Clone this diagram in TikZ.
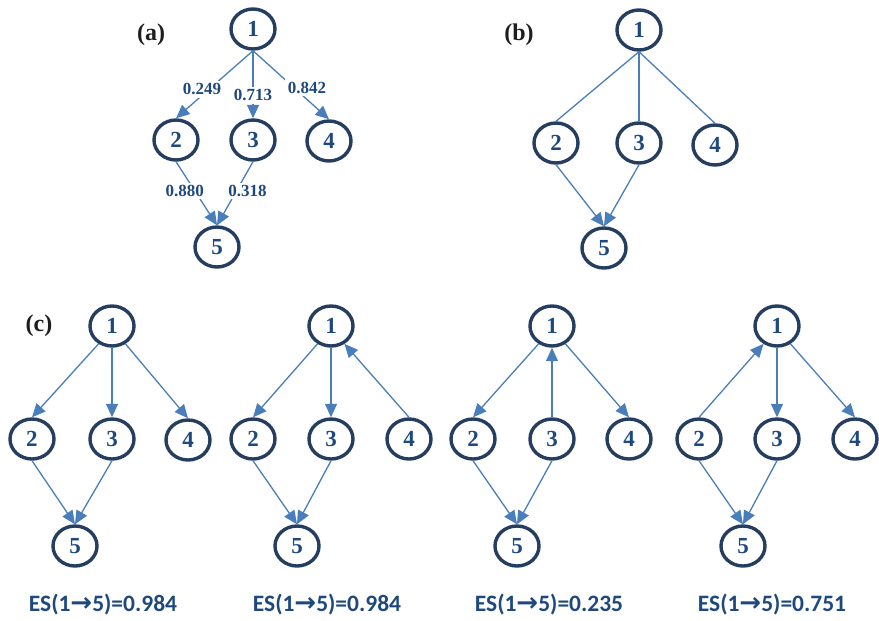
\documentclass[tikz,border=0pt]{standalone}
\usepackage{fontspec}
\setmainfont{Liberation Serif}
\newfontfamily\esfont{Carlito}
\newfontfamily\arrowfont{DejaVu Sans}
\usetikzlibrary{shapes.geometric,arrows.meta}

\definecolor{nodeline}{RGB}{37,62,96}
\definecolor{nodetext}{RGB}{31,73,125}
\definecolor{edgeblue}{RGB}{74,126,187}
\definecolor{labelink}{RGB}{30,30,30}

\tikzset{
  vert/.style={ellipse, draw=nodeline, line width=3.4pt, minimum width=44pt,
    minimum height=40pt, inner sep=0pt, text=nodetext,
    font=\fontsize{23}{23}\selectfont\bfseries},
  link/.style={draw=edgeblue, line width=1.3pt},
  arc/.style={link, -{Triangle[length=13.5pt,width=12pt]}},
  weight/.style={fill=white, inner sep=2.5pt, text=nodetext,
    font=\fontsize{17}{17}\selectfont\bfseries},
  panel/.style={text=labelink, font=\fontsize{24}{24}\selectfont\bfseries},
  score/.style={text=nodetext, font=\esfont\fontsize{23.5}{23.5}\selectfont\bfseries},
}
\newcommand{\esarrow}{{\arrowfont\fontsize{26}{26}\selectfont\bfseries →}}

\begin{document}
\begin{tikzpicture}[x=1pt,y=-1pt]
\useasboundingbox (0,0) rectangle (879,621);

% ---------- (a) weighted graph ----------
\node[panel] (la) at (151,35) {(a)};
\node[vert] (a1) at (253,29) {1};
\node[vert] (a2) at (176,140) {2};
\node[vert] (a3) at (253,140) {3};
\node[vert] (a4) at (329,141) {4};
\node[vert] (a5) at (217,247) {5};
\draw[arc] (a1.south) -- node[weight, pos=0.57, xshift=-7pt] {0.249} (a2.north);
\draw[arc] (a1.south) -- node[weight, pos=0.66] {0.713} (a3.north);
\draw[arc] (a1.south) -- node[weight, pos=0.54, xshift=13pt] {0.842} (a4.north);
\draw[arc] (a2.south) -- node[weight, pos=0.46, xshift=-10pt] {0.880} (a5.north);
\draw[arc] (a3.south) -- node[weight, pos=0.46, xshift=11pt] {0.318} (a5.north);

% ---------- (b) undirected upper part ----------
\node[panel] (lb) at (519,35) {(b)};
\node[vert] (b1) at (639,30) {1};
\node[vert] (b2) at (556,143) {2};
\node[vert] (b3) at (639,143) {3};
\node[vert] (b4) at (715,145) {4};
\node[vert] (b5) at (604,248) {5};
\draw[link] (b1.south) -- (b2.north);
\draw[link] (b1.south) -- (b3.north);
\draw[link] (b1.south) -- (b4.north);
\draw[arc] (b2.south) -- (b5.north);
\draw[arc] (b3.south) -- (b5.north);

% ---------- (c) four orientations ----------
\node[panel] (lc) at (39,326) {(c)};

% orientation 1
\node[vert] (p1) at (112,326) {1};
\node[vert] (p2) at (32,439) {2};
\node[vert] (p3) at (112,439) {3};
\node[vert] (p4) at (188,440) {4};
\node[vert] (p5) at (75,546) {5};
\draw[arc] (p1.-127) -- (p2.north);
\draw[arc] (p1.south) -- (p3.north);
\draw[arc] (p1.-53) -- (p4.north);
\draw[arc] (p2.south) -- (p5.north);
\draw[arc] (p3.south) -- (p5.north);
\node[score] (s1) at (103,605) {ES(1\esarrow5)=0.984};

% orientation 2
\node[vert] (q1) at (331,326) {1};
\node[vert] (q2) at (253,439) {2};
\node[vert] (q3) at (331,439) {3};
\node[vert] (q4) at (409,439) {4};
\node[vert] (q5) at (297,546) {5};
\draw[arc] (q1.-127) -- (q2.north);
\draw[arc] (q1.south) -- (q3.north);
\draw[arc] (q4.north) -- (q1.-53);
\draw[arc] (q2.south) -- (q5.north);
\draw[arc] (q3.south) -- (q5.north);
\node[score] (s2) at (327,605) {ES(1\esarrow5)=0.984};

% orientation 3
\node[vert] (r1) at (552,326) {1};
\node[vert] (r2) at (473,439) {2};
\node[vert] (r3) at (552,439) {3};
\node[vert] (r4) at (629,439) {4};
\node[vert] (r5) at (517,546) {5};
\draw[arc] (r1.-127) -- (r2.north);
\draw[arc] (r3.north) -- (r1.south);
\draw[arc] (r1.-53) -- (r4.north);
\draw[arc] (r2.south) -- (r5.north);
\draw[arc] (r3.south) -- (r5.north);
\node[score] (s3) at (549,605) {ES(1\esarrow5)=0.235};

% orientation 4
\node[vert] (t1) at (777,326) {1};
\node[vert] (t2) at (699,439) {2};
\node[vert] (t3) at (777,439) {3};
\node[vert] (t4) at (855,439) {4};
\node[vert] (t5) at (743,546) {5};
\draw[arc] (t2.north) -- (t1.-127);
\draw[arc] (t1.south) -- (t3.north);
\draw[arc] (t1.-53) -- (t4.north);
\draw[arc] (t2.south) -- (t5.north);
\draw[arc] (t3.south) -- (t5.north);
\node[score] (s4) at (772,605) {ES(1\esarrow5)=0.751};
\end{tikzpicture}
\end{document}
